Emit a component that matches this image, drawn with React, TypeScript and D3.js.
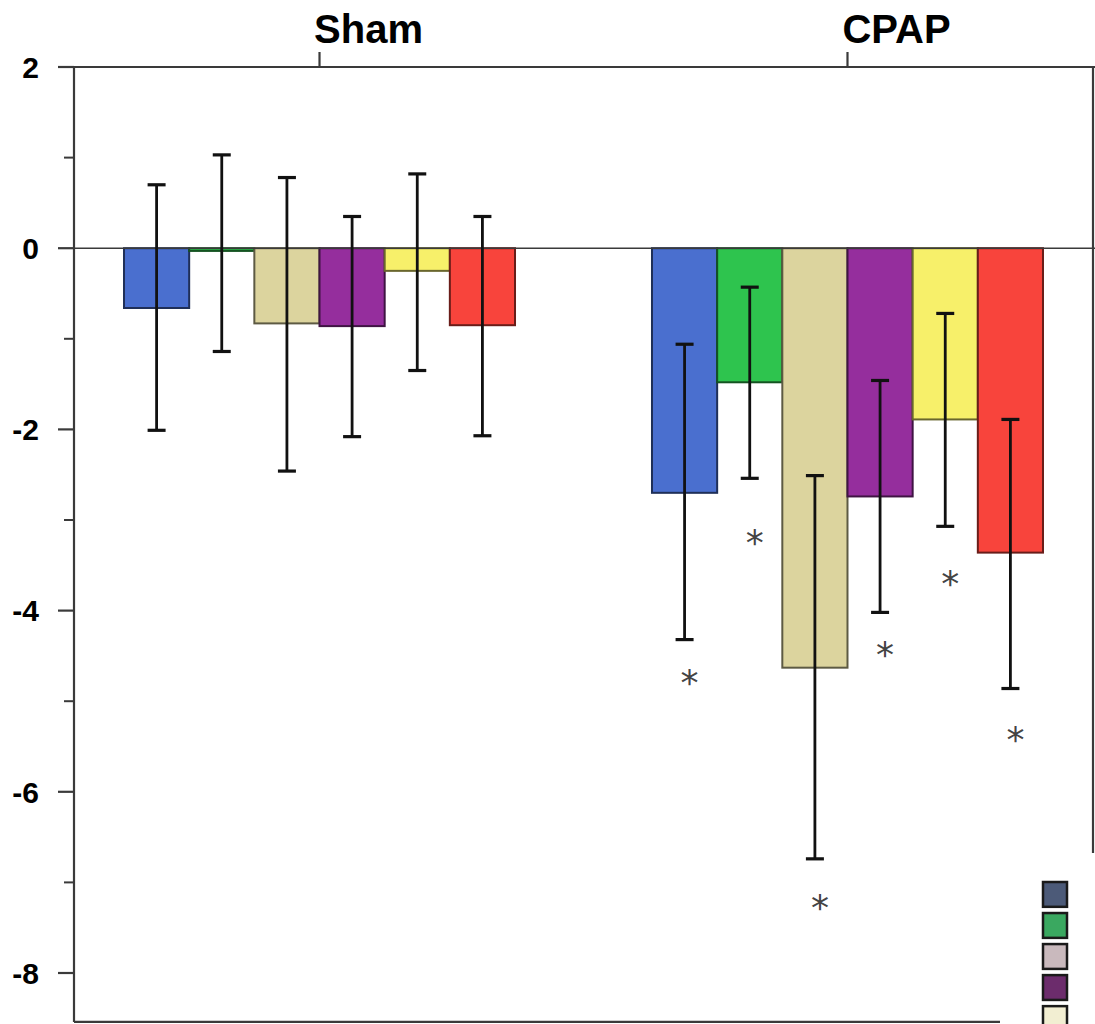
import React from "react";
import * as d3 from "d3";

const groups = ["Sham", "CPAP"];
const series = ["A", "B", "C", "D", "E", "F"];
const seriesColors = ["#4a6fcf", "#2ec44e", "#dcd49e", "#952e9d", "#f7f06a", "#f8443c"];

const shamMean = [-0.66, -0.03, -0.83, -0.86, -0.25, -0.85];
const shamLow = [-2.01, -1.14, -2.46, -2.08, -1.35, -2.07];
const shamHigh = [0.7, 1.03, 0.78, 0.35, 0.82, 0.35];

const cpapMean = [-2.7, -1.48, -4.63, -2.74, -1.89, -3.36];
const cpapLow = [-4.32, -2.54, -6.74, -4.02, -3.07, -4.86];
const cpapHigh = [-1.06, -0.43, -2.51, -1.46, -0.72, -1.89];
const cpapStar = [-4.7, -3.15, -7.18, -4.39, -3.61, -5.33];

const majorTicks = [2, 0, -2, -4, -6, -8];
const minorTicks = [1, -1, -3, -5, -7];

const legendColors = ["#4c5a78", "#3aa860", "#c9b9bd", "#6c2c6c", "#f2eed2", "#e8e0c0"];

const W = 1095;
const H = 1024;

export default function App() {
  const left = 74;
  const right = 1093;
  const y = d3.scaleLinear().domain([-8, 2]).range([973, 67]);
  const yBottom = y(-8.54);
  const xG = d3.scalePoint().domain(groups).range([left, right]).padding(0.465);
  const xS = d3.scaleBand().domain(series).range([-195.5, 195.5]).padding(0);
  const bw = xS.bandwidth();
  const capW = 18;
  const axisColor = "#3a3a3a";
  const font = "Arial, 'Liberation Sans', sans-serif";

  const groupData = [
    { g: "Sham", mean: shamMean, lo: shamLow, hi: shamHigh, star: null as number[] | null },
    { g: "CPAP", mean: cpapMean, lo: cpapLow, hi: cpapHigh, star: cpapStar },
  ];

  const legendY = d3.scaleBand().domain(series).range([882, 1062]).paddingInner(0.2);

  return (
    <svg
      width={W}
      height={H}
      style={{ position: "absolute", left: 0, top: 0, background: "#fff" }}
      xmlns="http://www.w3.org/2000/svg"
    >
      <rect x={0} y={0} width={W} height={H} fill="#fff" />

      {/* bars */}
      {groupData.map((gd) =>
        series.map((s, i) => {
          const x0 = (xG(gd.g) as number) + (xS(s) as number);
          const y0 = y(0);
          const y1 = y(gd.mean[i]);
          const c = seriesColors[i];
          return (
            <rect
              key={gd.g + s}
              x={x0}
              y={Math.min(y0, y1)}
              width={bw}
              height={Math.max(Math.abs(y1 - y0), 1.5)}
              fill={c}
              stroke={d3.color(c)!.darker(2.4).formatHex()}
              strokeWidth={2}
            />
          );
        })
      )}

      {/* zero line */}
      <line x1={left} x2={W} y1={y(0)} y2={y(0)} stroke={axisColor} strokeWidth={1.6} />

      {/* error bars */}
      {groupData.map((gd) =>
        series.map((s, i) => {
          const cx = (xG(gd.g) as number) + (xS(s) as number) + bw / 2;
          return (
            <g key={"e" + gd.g + s} stroke="#111" strokeWidth={2.8}>
              <line x1={cx} x2={cx} y1={y(gd.hi[i])} y2={y(gd.lo[i])} />
              <line x1={cx - capW / 2} x2={cx + capW / 2} y1={y(gd.hi[i])} y2={y(gd.hi[i])} strokeWidth={3.2} />
              <line x1={cx - capW / 2} x2={cx + capW / 2} y1={y(gd.lo[i])} y2={y(gd.lo[i])} strokeWidth={3.2} />
            </g>
          );
        })
      )}

      {/* asterisks */}
      {groupData.map((gd) =>
        gd.star
          ? series.map((s, i) => {
              const cx = (xG(gd.g) as number) + (xS(s) as number) + bw / 2 + 5;
              return (
                <text
                  key={"st" + gd.g + s}
                  x={cx}
                  y={y(gd.star![i]) + 21}
                  textAnchor="middle"
                  fontFamily="'DejaVu Sans', sans-serif"
                  fontSize={36}
                  fill="#444"
                >
                  *
                </text>
              );
            })
          : null
      )}

      {/* frame: left axis, top axis, right border, bottom */}
      <line x1={left} x2={left} y1={y(2)} y2={yBottom} stroke={axisColor} strokeWidth={2.2} />
      <line x1={58} x2={W} y1={y(2)} y2={y(2)} stroke={axisColor} strokeWidth={2.2} />
      <line x1={right} x2={right} y1={y(2)} y2={H} stroke={axisColor} strokeWidth={2.2} />
      <line x1={left} x2={W} y1={yBottom} y2={yBottom} stroke={axisColor} strokeWidth={2.2} />

      {/* y ticks */}
      {majorTicks.map((t) => (
        <g key={"mt" + t}>
          <line x1={58} x2={left} y1={y(t)} y2={y(t)} stroke={axisColor} strokeWidth={2.2} />
          <text
            x={39}
            y={y(t)}
            dy="0.36em"
            textAnchor="end"
            fontFamily={font}
            fontWeight="bold"
            fontSize={30}
            fill="#000"
          >
            {t}
          </text>
        </g>
      ))}
      {minorTicks.map((t) => (
        <line key={"mn" + t} x1={64} x2={left} y1={y(t)} y2={y(t)} stroke={axisColor} strokeWidth={2} />
      ))}

      {/* top group ticks and labels */}
      {groups.map((g) => (
        <g key={"g" + g}>
          <line x1={xG(g)} x2={xG(g)} y1={52} y2={y(2)} stroke={axisColor} strokeWidth={2.2} />
          <text
            x={(xG(g) as number) + 49}
            y={43}
            textAnchor="middle"
            fontFamily={font}
            fontWeight="bold"
            fontSize={40}
            fill="#000"
          >
            {g}
          </text>
        </g>
      ))}

      {/* legend box (partially visible) */}
      <rect x={1000} y={853} width={W - 1000} height={H - 853} fill="#fff" />
      {series.map((s, i) => (
        <rect
          key={"lg" + s}
          x={1043}
          y={legendY(s)}
          width={24}
          height={legendY.bandwidth()}
          fill={legendColors[i]}
          stroke="#1a1a1a"
          strokeWidth={2.5}
        />
      ))}
    </svg>
  );
}
